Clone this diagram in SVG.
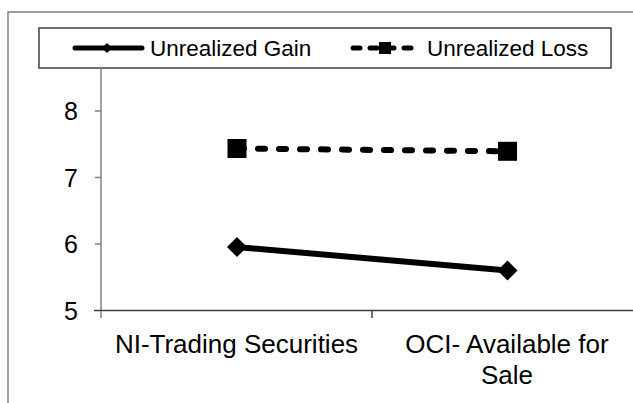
<svg xmlns="http://www.w3.org/2000/svg" width="633" height="403" viewBox="0 0 633 403">
  <style>
    text { font-family: "Liberation Sans", Arial, sans-serif; fill: #000; }
    .tick { font-size: 25px; text-anchor: end; }
    .cat { font-size: 26px; text-anchor: middle; }
    .leg { font-size: 22.5px; }
    .frame { fill: none; stroke: #808080; stroke-width: 1.5; }
    .axis-y { stroke: #808080; stroke-width: 1.5; }
    .axis-x { stroke: #404040; stroke-width: 1.5; }
    .gain { fill: none; stroke: #000; stroke-width: 6; }
    .loss { fill: none; stroke: #000; stroke-width: 6; stroke-dasharray: 7 14; stroke-linecap: round; }
  </style>
  <defs>
    <path id="diamond" d="M0,-10 L10,0 L0,10 L-10,0 Z" fill="#000"/>
    <rect id="square" x="-9.5" y="-9.5" width="19" height="19" fill="#000"/>
    <path id="diamond-s" d="M0,-5 L5,0 L0,5 L-5,0 Z" fill="#000"/>
    <rect id="square-s" x="-6" y="-6" width="12" height="12" fill="#000"/>
  </defs>

  <rect width="633" height="403" fill="#fff"/>

  <!-- chart frame -->
  <path class="frame" d="M8,403 V12 H633"/>

  <!-- legend -->
  <g id="legend">
    <rect x="39" y="28" width="572" height="40" fill="#fff" stroke="#404040" stroke-width="1.5"/>
    <g id="legend-gain">
      <line x1="75" y1="48" x2="142" y2="48" stroke="#000" stroke-width="5" stroke-linecap="round"/>
      <use href="#diamond-s" x="107" y="48"/>
      <text class="leg" x="150" y="56">Unrealized Gain</text>
    </g>
    <g id="legend-loss">
      <line x1="353" y1="48" x2="419" y2="48" stroke="#000" stroke-width="5" stroke-dasharray="7 10" stroke-linecap="round"/>
      <use href="#square-s" x="385" y="48"/>
      <text class="leg" x="427" y="56">Unrealized Loss</text>
    </g>
  </g>

  <!-- axes -->
  <g id="axes">
    <line class="axis-y" x1="101" y1="68" x2="101" y2="318"/>
    <line class="axis-y" x1="95" y1="111" x2="101" y2="111"/>
    <line class="axis-y" x1="95" y1="177.5" x2="101" y2="177.5"/>
    <line class="axis-y" x1="95" y1="244" x2="101" y2="244"/>
    <line class="axis-x" x1="94" y1="310.5" x2="633" y2="310.5"/>
    <line class="axis-x" x1="372" y1="310.5" x2="372" y2="318"/>
    <text class="tick" x="78" y="120">8</text>
    <text class="tick" x="78" y="186.5">7</text>
    <text class="tick" x="78" y="253">6</text>
    <text class="tick" x="78" y="319.5">5</text>
    <text class="cat" x="236.5" y="353">NI-Trading Securities</text>
    <text class="cat" x="507" y="353">OCI- Available for</text>
    <text class="cat" x="507" y="384">Sale</text>
  </g>

  <!-- series connectors -->
  <g id="connectors">
    <line class="loss" x1="237" y1="148.5" x2="507.5" y2="151.3"/>
    <line class="gain" x1="237" y1="247" x2="507.5" y2="270.5"/>
  </g>

  <!-- data points -->
  <g id="loss-ni"><use href="#square" x="237" y="148.5"/></g>
  <g id="loss-oci"><use href="#square" x="507.5" y="151.3"/></g>
  <g id="gain-ni"><use href="#diamond" x="237" y="247"/></g>
  <g id="gain-oci"><use href="#diamond" x="507.5" y="270.5"/></g>
</svg>
